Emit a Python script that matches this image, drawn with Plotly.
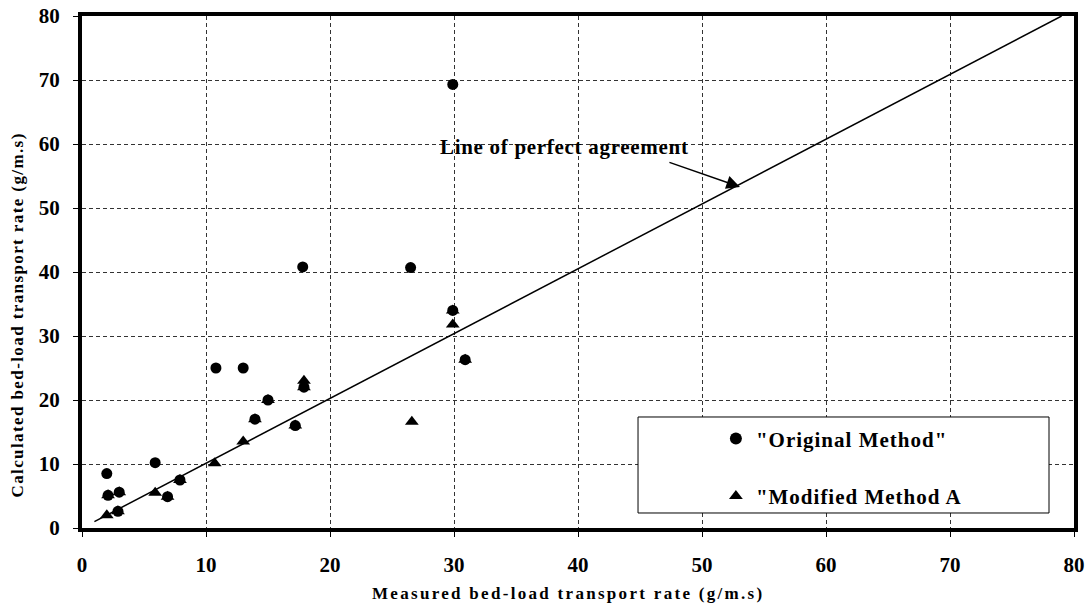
import plotly.graph_objects as go

# Measured vs calculated bed-load transport rate (g/m.s)
orig_x = [2.0, 2.1, 3.0, 2.9, 5.9, 6.9, 7.9, 10.8, 13.0, 13.95, 15.0, 17.2, 17.9, 17.8, 26.5, 29.9, 30.9, 29.9]
orig_y = [8.5, 5.1, 5.6, 2.6, 10.2, 4.9, 7.5, 25.0, 25.0, 17.0, 20.0, 16.0, 22.0, 40.8, 40.7, 34.0, 26.3, 69.3]

modA_x = [2.0, 2.1, 3.0, 2.9, 5.9, 6.9, 7.9, 10.7, 13.0, 13.95, 15.0, 17.2, 17.9, 17.9, 26.6, 29.9, 29.9, 30.9]
modA_y = [2.0, 5.1, 5.6, 2.6, 5.5, 4.9, 7.5, 10.1, 13.5, 17.0, 20.0, 16.0, 23.0, 22.0, 16.6, 31.8, 34.0, 26.3]

line_x = [1, 79]
line_y = [1, 80]

tick_vals = [0, 10, 20, 30, 40, 50, 60, 70, 80]
tick_text = ["0", "10", "20", "30", "40", "50", "60", "70", "80"]

FONT = "Liberation Serif, Times New Roman, serif"


def spaced(s, px):
    return '<span style="letter-spacing:%spx">%s</span>' % (px, s)


fig = go.Figure()
fig.add_trace(go.Scatter(x=line_x, y=line_y, mode="lines",
                         line=dict(color="black", width=1.5), showlegend=False, hoverinfo="skip"))
fig.add_trace(go.Scatter(x=modA_x, y=modA_y, mode="markers", name=spaced('"Modified Method A', 1),
                         marker=dict(symbol="triangle-up", size=12, color="black"),
                         legendrank=2, legendgroup="b"))
fig.add_trace(go.Scatter(x=orig_x, y=orig_y, mode="markers", name=spaced('"Original Method"', 1),
                         marker=dict(symbol="circle", size=11, color="black"),
                         legendrank=1, legendgroup="a"))

axis_common = dict(
    range=[0, 80], tickvals=tick_vals, ticktext=tick_text, automargin=False,
    showline=True, linecolor="black", linewidth=4, mirror=True,
    showgrid=True, gridcolor="#333", gridwidth=1, griddash="4px,3px",
    zeroline=False, ticks="outside", ticklen=5, tickwidth=1, tickcolor="black",
    tickfont=dict(family=FONT, size=21, color="black", weight="bold"),
)

fig.update_xaxes(**axis_common, ticklabelstandoff=10)
fig.update_yaxes(**axis_common, ticklabelstandoff=9)

# legend frame
fig.add_shape(type="rect", xref="paper", yref="paper",
              x0=0.5605, x1=0.9748, y0=0.0293, y1=0.2168,
              fillcolor="white", line=dict(color="black", width=1), layer="above")

fig.update_layout(
    width=1087, height=611,
    margin=dict(l=82, r=13, t=16, b=83),
    plot_bgcolor="white", paper_bgcolor="white",
    font=dict(family=FONT, color="black"),
    legend=dict(x=0.639, y=0.214, xanchor="left", yanchor="top",
                bgcolor="rgba(0,0,0,0)", borderwidth=0,
                font=dict(family=FONT, size=21, color="black", weight="bold"),
                traceorder="grouped", tracegroupgap=27, itemsizing="constant"),
    annotations=[
        # arrow only
        dict(x=53.06, y=53.3, xref="x", yref="y", ax=-72, ay=-25,
             text="", showarrow=True,
             arrowhead=2, arrowsize=1.8, arrowwidth=1.5, arrowcolor="black"),
        dict(x=38.95, y=59.5, xref="x", yref="y", showarrow=False,
             text=spaced("Line of perfect agreement", 0.7),
             xanchor="center", yanchor="middle",
             font=dict(family=FONT, size=21, color="black", weight="bold")),
        dict(x=0.49, y=-0.127, xref="paper", yref="paper", showarrow=False,
             text=spaced("Measured bed-load transport rate (g/m.s)", 2.3),
             font=dict(family=FONT, size=17, color="black", weight="bold"),
             xanchor="center", yanchor="middle"),
        dict(x=-0.0655, y=0.415, xref="paper", yref="paper", showarrow=False,
             text=spaced("Calculated bed-load transport rate (g/m.s)", 1.4),
             textangle=-90,
             font=dict(family=FONT, size=17, color="black", weight="bold"),
             xanchor="center", yanchor="middle"),
    ],
)

fig.write_html("out.html")
